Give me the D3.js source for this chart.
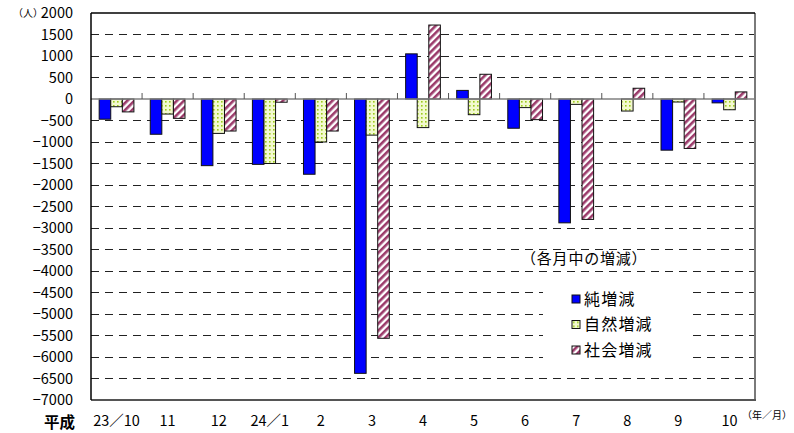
<!DOCTYPE html>
<html><head><meta charset="utf-8">
<script src="https://cdn.jsdelivr.net/npm/d3@7"></script>
<style>body{margin:0;background:#fff}svg{display:block}</style>
</head><body>
<svg id="c" width="794" height="433"></svg>
<script>
const categories = ["23/10","11","12","24/1","2","3","4","5","6","7","8","9","10"];
const netChange     = [-470,-820,-1550,-1520,-1750,-6380,1050,200,-680,-2880,0,-1190,-90];
const naturalChange = [-180,-350,-800,-1500,-1000,-840,-665,-365,-200,-125,-280,-70,-250];
const socialChange  = [-300,-450,-745,-75,-745,-5565,1720,575,-480,-2800,250,-1150,165];
const seriesNames = ["純増減","自然増減","社会増減"];
const yTicks = [2000,1500,1000,500,0,-500,-1000,-1500,-2000,-2500,-3000,-3500,-4000,-4500,-5000,-5500,-6000,-6500,-7000];

const svg = d3.select("#c");
const L=91, R=755, T=13, B=400;
const jp = "'Noto Sans CJK JP','Noto Sans',sans-serif";

const defs = svg.append("defs");
const pg = defs.append("pattern").attr("id","dots").attr("patternUnits","userSpaceOnUse").attr("width",4).attr("height",4);
pg.append("rect").attr("width",4).attr("height",4).attr("fill","#f3f9cf");
pg.append("rect").attr("x",1).attr("y",1).attr("width",1.6).attr("height",1.6).attr("fill","#9ccc1c");
const pp = defs.append("pattern").attr("id","stripes").attr("patternUnits","userSpaceOnUse").attr("width",5).attr("height",5).attr("patternTransform","rotate(45)");
pp.append("rect").attr("width",5).attr("height",5).attr("fill","#ffffff");
pp.append("rect").attr("width",2.6).attr("height",5).attr("fill","#9b3a6a");

const fills = ["#0000ff","url(#dots)","url(#stripes)"];
const series = [netChange, naturalChange, socialChange];

const y = d3.scaleLinear().domain([-7000,2000]).range([B,T]);
const x0 = d3.scaleBand().domain(categories).range([L,R]).paddingInner(0).paddingOuter(0);
const x1 = d3.scaleBand().domain([0,1,2]).range([x0.bandwidth()*0.16, x0.bandwidth()*0.84]).padding(0);

// gridlines
svg.append("g").selectAll("line").data(yTicks.filter(v=>v!==2000&&v!==-7000&&v!==0)).join("line")
  .attr("x1",L).attr("x2",R).attr("y1",d=>y(d)).attr("y2",d=>y(d))
  .attr("stroke","#222").attr("stroke-width",1).attr("stroke-dasharray","8,6").attr("shape-rendering","crispEdges");

// bars
const gb = svg.append("g");
categories.forEach((c,i)=>{
  series.forEach((s,k)=>{
    const v=s[i];
    if(v===0) return;
    gb.append("rect")
      .attr("x",x0(c)+x1(k)).attr("width",x1.bandwidth())
      .attr("y",y(Math.max(0,v))).attr("height",Math.abs(y(v)-y(0)))
      .attr("fill",fills[k]).attr("stroke","#111").attr("stroke-width",1);
  });
});

// zero axis with ticks
svg.append("line").attr("x1",L).attr("x2",R).attr("y1",y(0)).attr("y2",y(0)).attr("stroke","#808080").attr("stroke-width",1.5);
svg.append("g").selectAll("line").data(categories.slice(1)).join("line")
  .attr("x1",d=>x0(d)).attr("x2",d=>x0(d)).attr("y1",y(0)).attr("y2",y(0)-6)
  .attr("stroke","#555").attr("stroke-width",1);

// borders
svg.append("line").attr("x1",R).attr("x2",R).attr("y1",T).attr("y2",B).attr("stroke","#7a7a7a").attr("stroke-width",2);
svg.append("line").attr("x1",L).attr("x2",R+1).attr("y1",B).attr("y2",B).attr("stroke","#555").attr("stroke-width",2);
svg.append("line").attr("x1",L).attr("x2",R).attr("y1",T).attr("y2",T).attr("stroke","#000").attr("stroke-width",1.5);
svg.append("line").attr("x1",L).attr("x2",L).attr("y1",T).attr("y2",B).attr("stroke","#000").attr("stroke-width",1.5);

// y tick labels
const fmt = v => (v<0?"\u2212":"")+Math.abs(v);
svg.append("g").selectAll("text").data(yTicks).join("text")
  .attr("x",73).attr("y",d=>y(d)).attr("dy","0.36em").attr("text-anchor","end")
  .attr("font-family",jp).attr("font-size",14.5).attr("fill","#000").text(fmt);
svg.append("text").attr("x",13).attr("y",y(2000)).attr("dy","0.36em").attr("font-family",jp).attr("font-size",10).text("（人）");

// x labels
svg.append("g").selectAll("text").data(categories).join("text")
  .attr("x",d=>x0(d)+x0.bandwidth()/2).attr("y",426).attr("text-anchor","middle")
  .attr("font-family",jp).attr("font-size",14.5).text(d=>d.replace("/","／"));
svg.append("text").attr("x",44).attr("y",428).attr("font-family",jp).attr("font-size",15.5).attr("font-weight","bold").text("平成");
svg.append("text").attr("x",742).attr("y",419).attr("font-family",jp).attr("font-size",10).text("（年／月）");

// annotation
svg.append("text").attr("x",521).attr("y",259).attr("dy","0.36em").attr("font-family",jp).attr("font-size",15).attr("letter-spacing",0.8).text("（各月中の増減）");

// legend
svg.append("rect").attr("x",543).attr("y",282).attr("width",145).attr("height",82).attr("fill","#fff");
const lg = svg.append("g").selectAll("g").data(seriesNames).join("g")
  .attr("transform",(d,i)=>`translate(572,${299+i*25.5})`);
lg.append("rect").attr("x",0).attr("y",-4).attr("width",8).attr("height",8)
  .attr("fill",(d,i)=>fills[i]).attr("stroke","#111").attr("stroke-width",1);
lg.append("text").attr("x",12).attr("y",0).attr("dy","0.36em").attr("font-family",jp).attr("font-size",16).attr("letter-spacing",1.2).text(d=>d);
</script>
</body></html>
